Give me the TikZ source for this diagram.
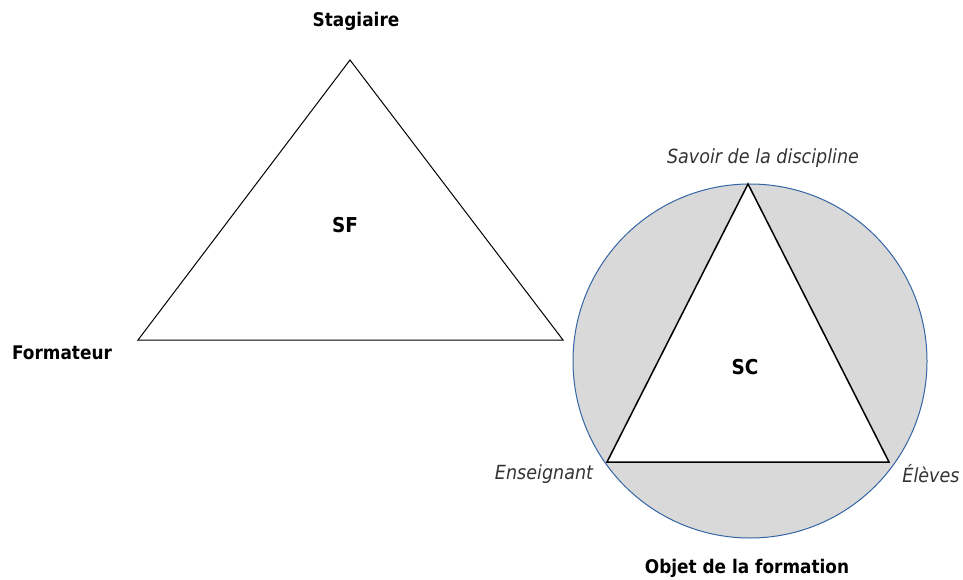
\documentclass[tikz,border=0pt]{standalone}
\usepackage{fontspec}
\setmainfont{DejaVu Sans}
\newfontfamily\labfont[FakeStretch=0.9]{DejaVu Sans}
\definecolor{circblue}{HTML}{3465A4}
\definecolor{circgray}{HTML}{D9D9D9}
\definecolor{itgray}{HTML}{333333}
\tikzset{
  boldlab/.style={font=\labfont\bfseries\fontsize{18.8}{21}\selectfont, text=black, inner sep=0pt},
  biglab/.style={font=\labfont\bfseries\fontsize{20.5}{23}\selectfont, text=black, inner sep=0pt},
  itlab/.style={font=\labfont\itshape\fontsize{19.5}{22}\selectfont, text=itgray, inner sep=0pt},
  tri/.style={draw=black, line join=miter},
}
\begin{document}
\begin{tikzpicture}[x=1pt,y=-1pt]
\useasboundingbox (0,0) rectangle (963,580);
% left triangle
\coordinate (sA) at (350,60);
\coordinate (sB) at (138,340);
\coordinate (sC) at (563,340);
\draw[tri, line width=1pt] (sA) -- (sB) -- (sC) -- cycle;
\node[boldlab] (stag) at (356,21) {Stagiaire};
\node[boldlab] (form) at (62,353) {Formateur};
\node[biglab] (sf) at (345,225) {SF};
% circle and inner triangle
\coordinate (cc) at (750,361);
\node[circle, draw=circblue, fill=circgray, line width=1pt, minimum size=354pt, inner sep=0pt] (circ) at (cc) {};
\coordinate (tA) at (748,184);
\coordinate (tB) at (607,462);
\coordinate (tC) at (889,462);
\draw[tri, fill=white, line width=1.5pt] (tA) -- (tB) -- (tC) -- cycle;
\node[biglab] (sc) at (745,367) {SC};
\node[itlab] (sav) at (763,158) {Savoir de la discipline};
\node[itlab] (ens) at (544,474) {Enseignant};
\node[itlab] (ele) at (931,474) {Élèves};
\node[boldlab] (obj) at (747,568) {Objet de la formation};
\end{tikzpicture}
\end{document}
